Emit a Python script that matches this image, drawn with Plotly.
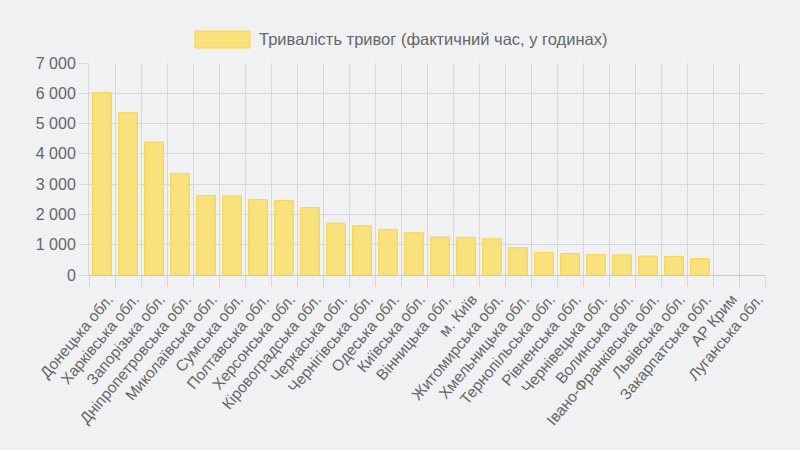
import plotly.graph_objects as go

categories = [
    "Донецька обл.", "Харківська обл.", "Запорізька обл.", "Дніпропетровська обл.",
    "Миколаївська обл.", "Сумська обл.", "Полтавська обл.", "Херсонська обл.",
    "Кіровоградська обл.", "Черкаська обл.", "Чернігівська обл.", "Одеська обл.",
    "Київська обл.", "Вінницька обл.", "м. Київ", "Житомирська обл.",
    "Хмельницька обл.", "Тернопільська обл.", "Рівненська обл.", "Чернівецька обл.",
    "Волинська обл.", "Івано-Франківська обл.", "Львівська обл.", "Закарпатська обл.",
    "АР Крим", "Луганська обл.",
]
hours = [
    6020, 5360, 4390, 3355, 2620, 2610, 2490, 2465, 2225, 1710, 1625, 1505,
    1395, 1250, 1245, 1195, 900, 745, 712, 670, 665, 625, 615, 540, 0, 0,
]
series_name = "Тривалість тривог (фактичний час, у годинах)"
y_ticks = [0, 1000, 2000, 3000, 4000, 5000, 6000, 7000]

BG = "#f0f1f3"
GRID = "#d6d7da"
FILL = "rgba(250,223,110,0.9)"
EDGE = "#f5d54a"
TXT = "#666666"
FONT = "Liberation Sans, Arial, sans-serif"

fig = go.Figure(
    go.Bar(
        x=categories,
        y=hours,
        name=series_name,
        marker=dict(
            color=FILL,
            line=dict(color=EDGE, width=[1 if v > 0 else 0 for v in hours]),
        ),
        showlegend=False,
    )
)

fig.update_layout(
    width=800,
    height=450,
    paper_bgcolor=BG,
    plot_bgcolor=BG,
    margin=dict(l=89, r=35, t=63, b=175),
    bargap=0.28,
    separators=". ",
    font=dict(family=FONT, color=TXT, size=15),
)

fig.update_xaxes(
    type="category",
    tickson="boundaries",
    showgrid=True,
    gridcolor=GRID,
    gridwidth=1,
    ticks="outside",
    ticklen=11,
    tickcolor=GRID,
    tickangle=-50,
    ticklabelstandoff=8,
    ticklabelshift=6,
    tickfont=dict(size=15.5, color=TXT, family=FONT),
    showline=True,
    linecolor="#c8c9cc",
    mirror=False,
    range=[-0.5, len(categories) - 0.5],
)
fig.update_yaxes(
    range=[0, 7000],
    tickvals=y_ticks,
    tickformat=",d",
    showgrid=True,
    gridcolor=GRID,
    gridwidth=1,
    zeroline=False,
    ticks="outside",
    ticklen=9,
    tickcolor=GRID,
    tickfont=dict(size=16, color=TXT, family=FONT),
    showline=True,
    linecolor=GRID,
)

# legend-like box and label (Chart.js style)
fig.add_shape(
    type="rect", xref="paper", yref="paper",
    x0=(195 - 89) / 676, x1=(250 - 89) / 676,
    y0=(275 - 48) / 212, y1=(275 - 31) / 212,
    fillcolor=FILL, line=dict(color=EDGE, width=1),
)
fig.add_annotation(
    xref="paper", yref="paper",
    x=(257 - 89) / 676, y=(275 - 39.5) / 212,
    xanchor="left", yanchor="middle",
    text=series_name, showarrow=False,
    font=dict(size=16.5, color=TXT, family=FONT),
)

fig.write_html(
    "out.html",
    config={"displayModeBar": False},
    post_script="document.body.style.margin='0';document.body.style.background='#f0f1f3';",
)
